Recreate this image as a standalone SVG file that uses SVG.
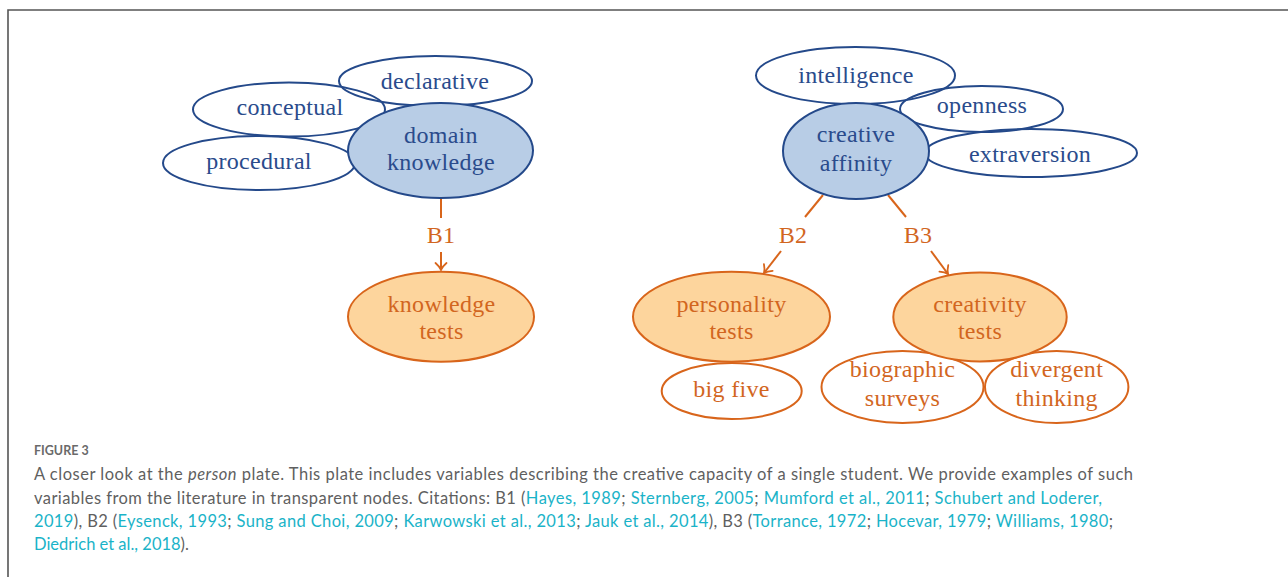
<svg xmlns="http://www.w3.org/2000/svg" width="1288" height="577" viewBox="0 0 1288 577">
<style>
.bg{fill:#ffffff}
.frame{fill:none;stroke:#555555;stroke-width:1.6}
.bo{fill:none;stroke:#24498a;stroke-width:2}
.bf{fill:#b8cde6;stroke:#24498a;stroke-width:2}
.oo{fill:none;stroke:#d8651b;stroke-width:2}
.of{fill:#fdd59d;stroke:#d8651b;stroke-width:2}
.bt{font-family:"Liberation Serif","Times New Roman",serif;font-size:24px;fill:#2a4b8c;text-anchor:middle;letter-spacing:0.3px}
.ot{font-family:"Liberation Serif","Times New Roman",serif;font-size:24px;fill:#d2661f;text-anchor:middle;letter-spacing:0.3px}
.edge{fill:none;stroke:#d8651b;stroke-width:2}
.cap{font-family:Lato,"Open Sans",sans-serif;font-size:16.5px;fill:#5f5f5f}
.lnk{fill:#1ab3c8}
.fig{font-family:Lato,"Open Sans",sans-serif;font-size:12.5px;fill:#6a6a6a;font-weight:bold}
</style>
<defs>
<marker id="arr" viewBox="-10 -8 12 16" refX="0" refY="0" markerWidth="12" markerHeight="16" markerUnits="userSpaceOnUse" orient="auto">
<path d="M-7,-5.5 C-4,-2 -1.5,-0.6 0,0 C-1.5,0.6 -4,2 -7,5.5" fill="none" stroke="#d8651b" stroke-width="1.8" stroke-linecap="round"/>
</marker>
</defs>
<rect class="bg" x="0" y="0" width="1288" height="577"/>
<path class="frame" d="M8,577 V10 H1288"/>

<g id="connectors">
<line class="edge" x1="441" y1="199" x2="441" y2="218"/>
<line class="edge" x1="441" y1="252" x2="441" y2="270" marker-end="url(#arr)"/>
<text class="ot" x="441" y="243">B1</text>
<line class="edge" x1="823" y1="195" x2="805" y2="217"/>
<line class="edge" x1="781" y1="251" x2="764" y2="273" marker-end="url(#arr)"/>
<text class="ot" x="793" y="243">B2</text>
<line class="edge" x1="888" y1="195" x2="906" y2="217"/>
<line class="edge" x1="931" y1="251" x2="948" y2="274" marker-end="url(#arr)"/>
<text class="ot" x="918" y="243">B3</text>
</g>

<g id="procedural"><ellipse class="bo" cx="259" cy="163" rx="96" ry="27"/><text class="bt" x="259" y="169">procedural</text></g>
<g id="conceptual"><ellipse class="bo" cx="289" cy="109.5" rx="96" ry="27"/><text class="bt" x="290" y="115">conceptual</text></g>
<g id="declarative"><ellipse class="bo" cx="435.5" cy="81" rx="96.5" ry="25"/><text class="bt" x="435" y="89">declarative</text></g>
<g id="domain-knowledge"><ellipse class="bf" cx="440.5" cy="150.5" rx="92.5" ry="47.5"/><text class="bt" x="441" y="143">domain</text><text class="bt" x="441" y="170">knowledge</text></g>

<g id="intelligence"><ellipse class="bo" cx="855.5" cy="75.5" rx="99.5" ry="28.5"/><text class="bt" x="856" y="83">intelligence</text></g>
<g id="openness"><ellipse class="bo" cx="981.5" cy="109" rx="81.5" ry="23"/><text class="bt" x="982" y="113">openness</text></g>
<g id="extraversion"><ellipse class="bo" cx="1031" cy="153" rx="106" ry="24"/><text class="bt" x="1030" y="162">extraversion</text></g>
<g id="creative-affinity"><ellipse class="bf" cx="856" cy="151" rx="73" ry="48"/><text class="bt" x="856" y="142">creative</text><text class="bt" x="856" y="171">affinity</text></g>

<g id="knowledge-tests"><ellipse class="of" cx="441" cy="316.7" rx="93" ry="45"/><text class="ot" x="441.5" y="312">knowledge</text><text class="ot" x="441.5" y="338.5">tests</text></g>

<g id="big-five"><ellipse class="oo" cx="731.7" cy="391" rx="70" ry="28"/><text class="ot" x="731.5" y="397">big five</text></g>
<g id="personality-tests"><ellipse class="of" cx="731.5" cy="316.7" rx="98.5" ry="45"/><text class="ot" x="731.5" y="312">personality</text><text class="ot" x="731.5" y="338.5">tests</text></g>

<g id="biographic-surveys"><ellipse class="oo" cx="902.5" cy="387" rx="81" ry="36"/><text class="ot" x="902.5" y="377">biographic</text><text class="ot" x="902.5" y="406">surveys</text></g>
<g id="divergent-thinking"><ellipse class="oo" cx="1056.7" cy="387" rx="71.7" ry="36"/><text class="ot" x="1056.7" y="377">divergent</text><text class="ot" x="1056.7" y="406">thinking</text></g>
<g id="creativity-tests"><ellipse class="of" cx="980" cy="317" rx="86.7" ry="44.5"/><text class="ot" x="980" y="312">creativity</text><text class="ot" x="980" y="338.5">tests</text></g>

<g id="caption">
<text class="fig" x="34" y="455">FIGURE 3</text>
<text class="cap" x="34" y="480" textLength="1099" lengthAdjust="spacing">A closer look at the <tspan font-style="italic">person</tspan> plate. This plate includes variables describing the creative capacity of a single student. We provide examples of such</text>
<text class="cap" x="34" y="503.5" textLength="1068" lengthAdjust="spacing">variables from the literature in transparent nodes. Citations: B1 (<tspan class="lnk">Hayes, 1989</tspan>; <tspan class="lnk">Sternberg, 2005</tspan>; <tspan class="lnk">Mumford et al., 2011</tspan>; <tspan class="lnk">Schubert and Loderer,</tspan></text>
<text class="cap" x="34" y="527" textLength="1079" lengthAdjust="spacing"><tspan class="lnk">2019</tspan>), B2 (<tspan class="lnk">Eysenck, 1993</tspan>; <tspan class="lnk">Sung and Choi, 2009</tspan>; <tspan class="lnk">Karwowski et al., 2013</tspan>; <tspan class="lnk">Jauk et al., 2014</tspan>), B3 (<tspan class="lnk">Torrance, 1972</tspan>; <tspan class="lnk">Hocevar, 1979</tspan>; <tspan class="lnk">Williams, 1980</tspan>;</text>
<text class="cap" x="34" y="550"><tspan class="lnk">Diedrich et al., 2018</tspan>).</text>
</g>
</svg>
